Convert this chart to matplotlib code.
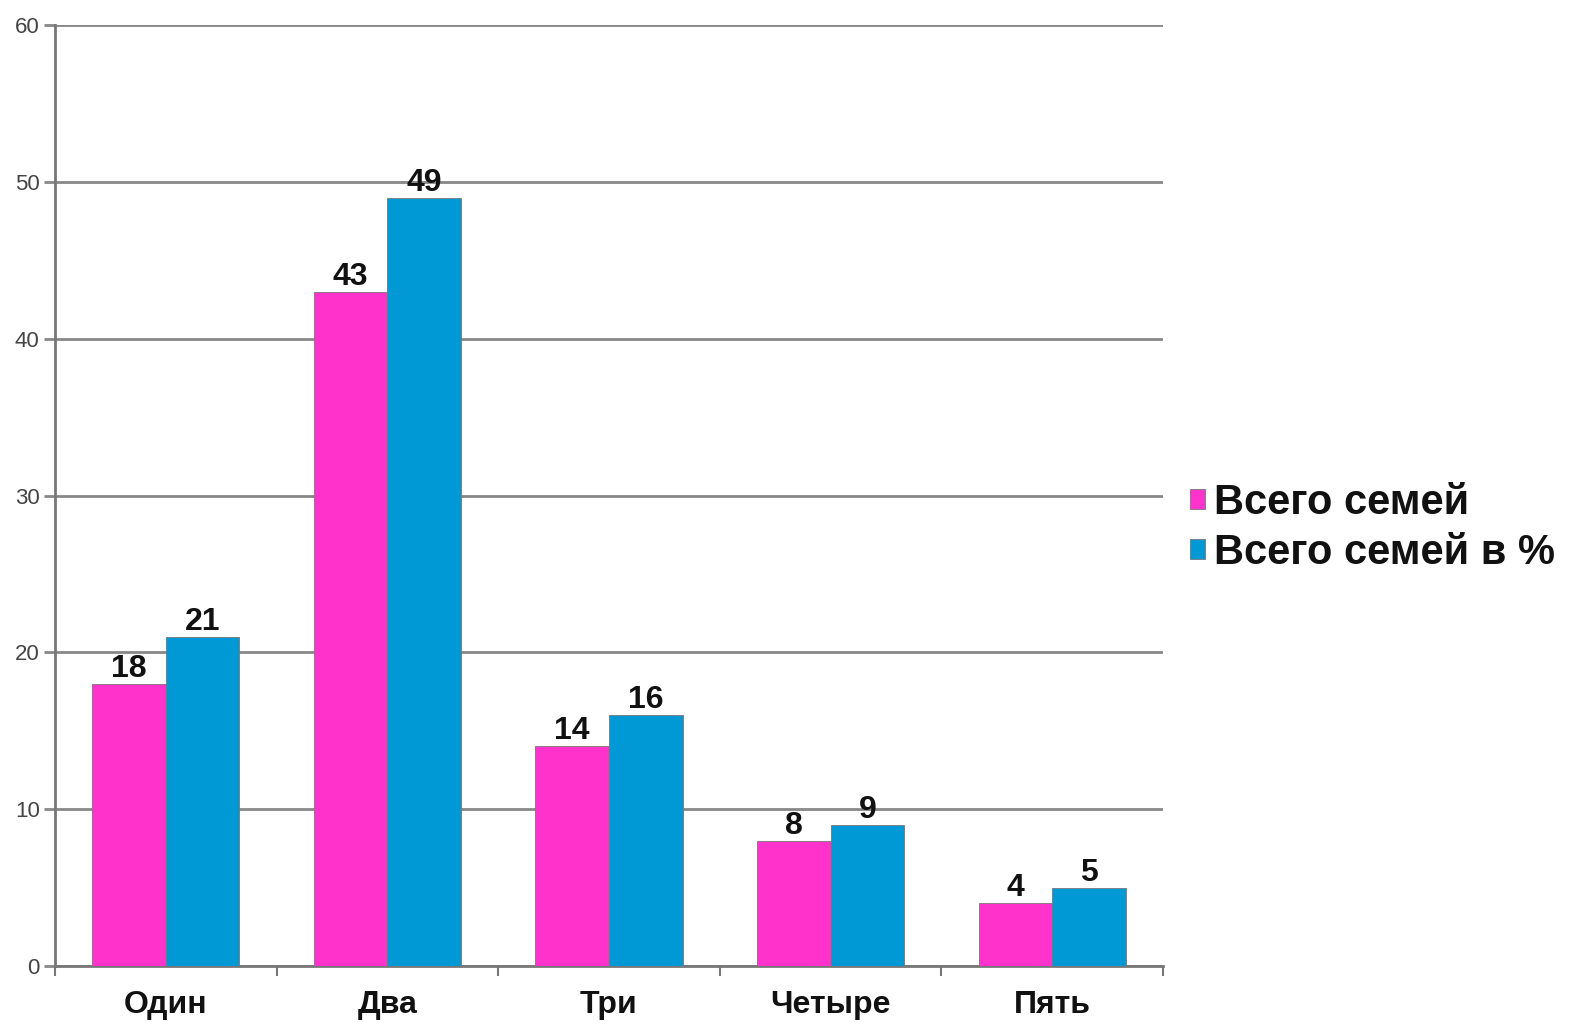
import matplotlib
matplotlib.use("Agg")
import matplotlib.pyplot as plt
import numpy as np

categories = ["Один", "Два", "Три", "Четыре", "Пять"]
series_names = ["Всего семей", "Всего семей в %"]
total_families = [18, 43, 14, 8, 4]
total_families_pct = [21, 49, 16, 9, 5]
y_ticks = [0, 10, 20, 30, 40, 50, 60]

colors = ["#FF33CC", "#0099D6"]

plt.rcParams['font.family'] = ['Liberation Sans', 'DejaVu Sans']

fig = plt.figure(figsize=(15.72, 10.24), dpi=100)
ax = fig.add_axes([55/1572, 1-966/1024, (1163-55)/1572, (966-25)/1024])

x = np.arange(len(categories))
w = 0.332
bars1 = ax.bar(x - w/2, total_families, w, color=colors[0], edgecolor="#777777", linewidth=0.6,
               label=series_names[0], zorder=3)
bars2 = ax.bar(x + w/2, total_families_pct, w, color=colors[1], edgecolor="#777777", linewidth=0.6,
               label=series_names[1], zorder=3)

for bars, vals in ((bars1, total_families), (bars2, total_families_pct)):
    for b, v in zip(bars, vals):
        ax.annotate(str(v), (b.get_x() + b.get_width()/2, v), xytext=(0, 0),
                    textcoords="offset points", ha="center", va="bottom",
                    fontsize=23, fontweight="bold", color="#111111", zorder=4)

ax.set_xlim(-0.5, len(categories) - 0.5)
ax.set_ylim(0, 60)
ax.set_yticks(y_ticks)
ax.set_yticklabels([str(t) for t in y_ticks], fontsize=16, color="#444444")
ax.yaxis.grid(True, color="#888888", linewidth=2, zorder=0)
ax.set_axisbelow(True)

ax.set_xticks(x)
ax.set_xticklabels(categories, fontsize=23, fontweight="bold", color="#111111")
ax.tick_params(axis="x", length=0, pad=17)
ax.set_xticks(np.arange(-0.5, len(categories)), minor=True)
ax.tick_params(axis="x", which="minor", length=7, width=1.5, color="#777777")
ax.tick_params(axis="y", length=8, width=2, color="#888888", pad=3)

for s in ["top", "right"]:
    ax.spines[s].set_visible(False)
ax.spines["left"].set_color("#777777")
ax.spines["left"].set_linewidth(2)
ax.spines["bottom"].set_color("#777777")
ax.spines["bottom"].set_linewidth(2)

leg = fig.legend(handles=[bars1, bars2], labels=series_names, loc="center left",
                 bbox_to_anchor=(1190/1572, 1-528/1024), frameon=False,
                 prop={"size": 30, "weight": "bold"}, handlelength=0.35, handleheight=0.35,
                 handletextpad=0.22, labelspacing=0.25, borderaxespad=0, borderpad=0)
for t in leg.get_texts():
    t.set_color("#111111")

fig.savefig("out.png", dpi=100, facecolor="white")
